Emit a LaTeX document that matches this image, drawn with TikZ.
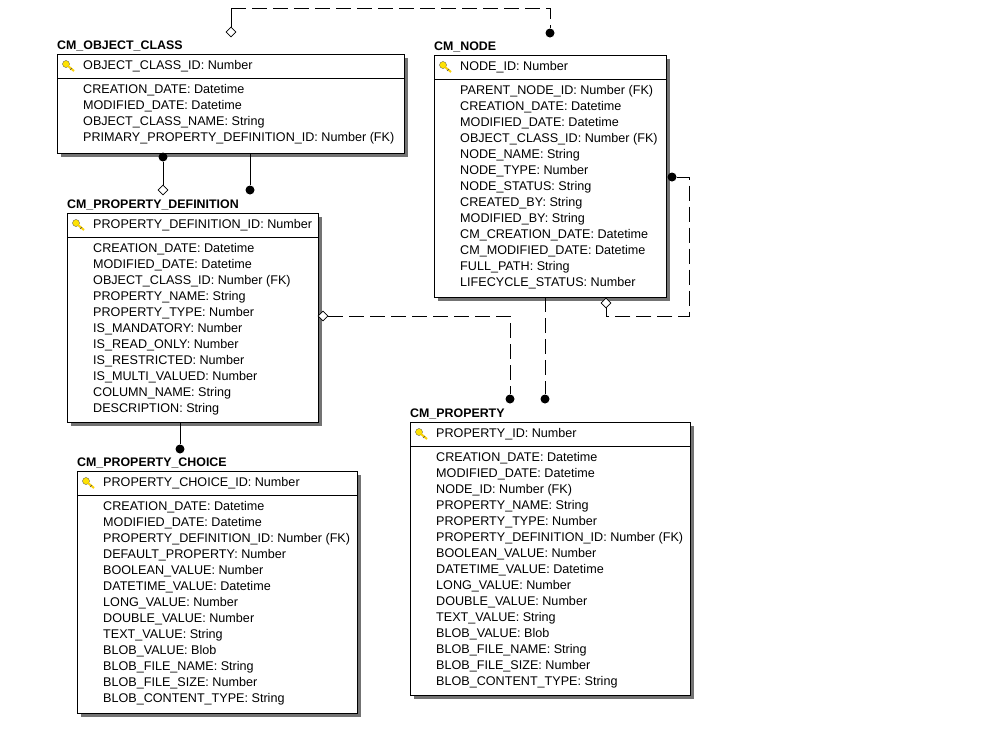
\documentclass[tikz,border=0pt]{standalone}
\usepackage{fontspec}
\setmainfont{Liberation Sans}
\usetikzlibrary{shapes.geometric}
\begin{document}
\begin{tikzpicture}[x=1pt,y=-1pt,
  txt/.style={font=\fontsize{12.6}{13}\selectfont,anchor=west,inner sep=0pt},
  ttl/.style={font=\fontsize{12.4}{13}\selectfont\bfseries,anchor=west,inner sep=0pt},
  box/.style={draw=black,fill=white,line width=0.8pt},
  shadow/.style={fill=black!55},
  rel/.style={line width=0.8pt},
  dsh/.style={rel,dash pattern=on 15pt off 6pt},
  dot/.style={circle,fill=black,inner sep=0pt,minimum size=9pt},
  dia/.style={diamond,draw=black,fill=white,inner sep=0pt,minimum size=10pt,line width=0.7pt}]
\useasboundingbox (0,0) rectangle (1004,729);
\newcommand{\keyicon}[2]{%
  \fill[yellow!85!orange,draw=black!70,line width=0.3pt] (#1+4,#2-1) circle (3.5);
  \draw[yellow!70!orange,line width=2pt] (#1+6,#2+1) -- (#1+12,#2+6);
  \draw[black!70,line width=0.4pt] (#1+8,#2+5) -- (#1+10,#2+3);}
% #1 name #2 x1 #3 y1 #4 x2 #5 y2 #6 title #7 key #8 attrs
\newcommand{\entity}[8]{%
  \fill[shadow] (#2+4,#3+4) rectangle (#4+4,#5+4);
  \draw[box] (#2,#3) rectangle (#4,#5);
  \coordinate (#1-nw) at (#2,#3);
  \coordinate (#1-se) at (#4,#5);
  \draw[line width=0.8pt] (#2,#3+24) -- (#4,#3+24);
  \node[ttl] (#1-title) at (#2,#3-8) {#6};
  \keyicon{#2+5}{#3+11}
  \node[txt] (#1-key) at (#2+26,#3+12) {#7};
  \foreach \a [count=\i from 0] in {#8} {\node[txt] at (#2+26,#3+36+16*\i) {\a};}
}
\entity{oc}{57}{54}{404}{153}{CM\_OBJECT\_CLASS}{OBJECT\_CLASS\_ID: Number}
 {CREATION\_DATE: Datetime,MODIFIED\_DATE: Datetime,OBJECT\_CLASS\_NAME: String,PRIMARY\_PROPERTY\_DEFINITION\_ID: Number (FK)}
\entity{nd}{434}{55}{666}{297}{CM\_NODE}{NODE\_ID: Number}
 {PARENT\_NODE\_ID: Number (FK),CREATION\_DATE: Datetime,MODIFIED\_DATE: Datetime,OBJECT\_CLASS\_ID: Number (FK),NODE\_NAME: String,NODE\_TYPE: Number,NODE\_STATUS: String,CREATED\_BY: String,MODIFIED\_BY: String,CM\_CREATION\_DATE: Datetime,CM\_MODIFIED\_DATE: Datetime,FULL\_PATH: String,LIFECYCLE\_STATUS: Number}
\entity{pd}{67}{213}{318}{422}{CM\_PROPERTY\_DEFINITION}{PROPERTY\_DEFINITION\_ID: Number}
 {CREATION\_DATE: Datetime,MODIFIED\_DATE: Datetime,OBJECT\_CLASS\_ID: Number (FK),PROPERTY\_NAME: String,PROPERTY\_TYPE: Number,IS\_MANDATORY: Number,IS\_READ\_ONLY: Number,IS\_RESTRICTED: Number,IS\_MULTI\_VALUED: Number,COLUMN\_NAME: String,DESCRIPTION: String}
\entity{pc}{77}{471}{357}{713}{CM\_PROPERTY\_CHOICE}{PROPERTY\_CHOICE\_ID: Number}
 {CREATION\_DATE: Datetime,MODIFIED\_DATE: Datetime,PROPERTY\_DEFINITION\_ID: Number (FK),DEFAULT\_PROPERTY: Number,BOOLEAN\_VALUE: Number,DATETIME\_VALUE: Datetime,LONG\_VALUE: Number,DOUBLE\_VALUE: Number,TEXT\_VALUE: String,BLOB\_VALUE: Blob,BLOB\_FILE\_NAME: String,BLOB\_FILE\_SIZE: Number,BLOB\_CONTENT\_TYPE: String}
\entity{pr}{410}{422}{690}{695}{CM\_PROPERTY}{PROPERTY\_ID: Number}
 {CREATION\_DATE: Datetime,MODIFIED\_DATE: Datetime,NODE\_ID: Number (FK),PROPERTY\_NAME: String,PROPERTY\_TYPE: Number,PROPERTY\_DEFINITION\_ID: Number (FK),BOOLEAN\_VALUE: Number,DATETIME\_VALUE: Datetime,LONG\_VALUE: Number,DOUBLE\_VALUE: Number,TEXT\_VALUE: String,BLOB\_VALUE: Blob,BLOB\_FILE\_NAME: String,BLOB\_FILE\_SIZE: Number,BLOB\_CONTENT\_TYPE: String}
% relationship endpoints
\node[dia] (d1) at (231,32) {};
\node[dot] (e1) at (550,33) {};
\coordinate (c1a) at (231,8);
\coordinate (c1b) at (550,8);
\draw[rel] (d1.north) -- (c1a);
\draw[dsh] (c1a) -- (c1b) -- (e1);

\node[dot] (e2) at (163,157) {};
\node[dia] (d2) at (163,190) {};
\draw[rel] (e2) -- (d2.north);

\coordinate (s3) at (250,153);
\node[dot] (e3) at (250,190) {};
\draw[rel] (s3) -- (e3);

\node[dia] (d4) at (323,316) {};
\node[dot] (e4) at (510,399) {};
\draw[dsh] (d4.east) -- (510,316) -- (e4);

\coordinate (s5) at (545,297);
\node[dot] (e5) at (545,399) {};
\draw[dsh] (s5) -- (e5);

\node[dot] (e6) at (672,177) {};
\node[dia] (d6) at (606,303) {};
\draw[dsh] (e6) -- (689,177) -- (689,316) -- (606,316) -- (d6.south);

\coordinate (s7) at (180,422);
\node[dot] (e7) at (180,449) {};
\draw[rel] (s7) -- (e7);
\end{tikzpicture}
\end{document}
